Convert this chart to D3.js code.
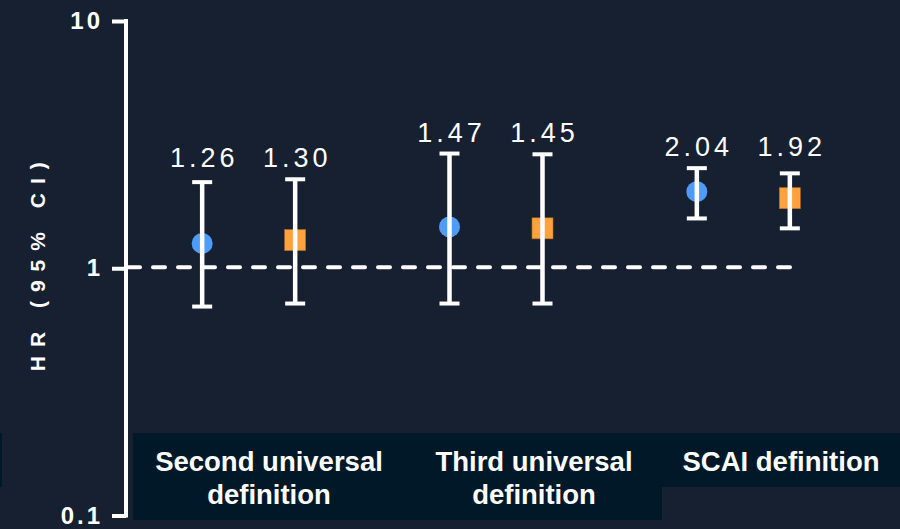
<!DOCTYPE html>
<html>
<head>
<meta charset="utf-8">
<script src="https://cdn.jsdelivr.net/npm/d3@7/dist/d3.min.js"></script>
<style>
  html, body { margin: 0; padding: 0; background: #172030; }
  svg { display: block; }
</style>
</head>
<body>
<svg id="chart" width="900" height="529"></svg>
<script>
// Hazard ratios with 95% confidence intervals, by definition of periprocedural MI
const categories = ["Second universal definition", "Third universal definition", "SCAI definition"];
const categoryLines = [["Second universal", "definition"], ["Third universal", "definition"], ["SCAI definition"]];
const series = ["A", "B"];
const hrA = [1.26, 1.47, 2.04];
const lowA = [0.70, 0.72, 1.59];
const highA = [2.23, 2.91, 2.54];
const hrB = [1.30, 1.45, 1.92];
const lowB = [0.72, 0.72, 1.45];
const highB = [2.29, 2.89, 2.42];
const yTicks = [0.1, 1, 10];
const yTickLabels = ["0.1", "1", "10"];
const yTitle = "HR (95% CI)";

const colors = { A: "#4f9cf8", B: "#ffa13f" };
const boxColor = "#011828";
const bg = "#172030";

const svg = d3.select("#chart");
svg.append("rect").attr("width", 900).attr("height", 529).attr("fill", bg);

const rows = [];
categories.forEach((c, i) => {
  rows.push({ cat: c, s: "A", hr: hrA[i], lo: lowA[i], hi: highA[i] });
  rows.push({ cat: c, s: "B", hr: hrB[i], lo: lowB[i], hi: highB[i] });
});

const x = d3.scaleBand().domain(categories).range([125, 867]).padding(0);
const xs = d3.scalePoint().domain(series).range([-46.5, 46.5]);
const y = d3.scaleLog().domain([0.1, 10]).range([515.5, 21]);
const px = d => x(d.cat) + x.bandwidth() / 2 + xs(d.s);

// Category label panels
const panel = [
  { x0: 133, x1: 662, y0: 433, y1: 520 },
  { x0: 662, x1: 900, y0: 433, y1: 487 },
  { x0: 0, x1: 2, y0: 433, y1: 487 }
];
svg.selectAll("rect.panel").data(panel).enter().append("rect")
  .attr("class", "panel")
  .attr("x", d => d.x0).attr("y", d => d.y0)
  .attr("width", d => d.x1 - d.x0).attr("height", d => d.y1 - d.y0)
  .attr("fill", boxColor);

const labelCenters = [269, 534, 781];
categoryLines.forEach((lines, i) => {
  const t = svg.append("text")
    .attr("x", labelCenters[i])
    .attr("y", 471)
    .attr("text-anchor", "middle")
    .attr("fill", "#ffffff")
    .style("font-family", "'Liberation Sans', Arial, sans-serif")
    .style("font-weight", "bold")
    .style("font-size", "27.5px");
  lines.forEach((ln, j) => {
    t.append("tspan").attr("x", labelCenters[i]).attr("dy", j === 0 ? 0 : 33).text(ln);
  });
});

// Reference line at HR = 1
svg.append("line")
  .attr("x1", 128).attr("x2", px(rows[rows.length - 1]) + 3)
  .attr("y1", y(1) - 1).attr("y2", y(1) - 1)
  .attr("stroke", "#ffffff").attr("stroke-width", 4)
  .attr("stroke-linecap", "round")
  .attr("stroke-dasharray", "12 13");

// Y axis
const axis = d3.axisLeft(y).tickValues(yTicks).tickFormat((d, i) => yTickLabels[i])
  .tickSize(14).tickSizeOuter(0).tickPadding(9);
const gA = svg.append("g").attr("transform", "translate(126,0)").call(axis);
gA.select(".domain").attr("stroke", "#ffffff").attr("stroke-width", 4)
  .attr("d", `M0,${y(10) - 2}V${y(0.1) + 2}`);
gA.selectAll(".tick line").attr("stroke", "#ffffff").attr("stroke-width", 4);
gA.selectAll(".tick text")
  .attr("fill", "#ffffff")
  .style("font-family", "'Liberation Sans', Arial, sans-serif")
  .style("font-weight", "bold")
  .style("font-size", "24px")
  .style("letter-spacing", "3px");

svg.append("text")
  .attr("transform", `translate(45,${y(1) - 6}) rotate(-90)`)
  .attr("text-anchor", "middle")
  .attr("fill", "#ffffff")
  .style("font-family", "'Liberation Sans', Arial, sans-serif")
  .style("font-weight", "bold")
  .style("font-size", "21px")
  .style("letter-spacing", "9px")
  .text(yTitle);

// Markers
const g = svg.append("g");
g.selectAll("circle.pt").data(rows.filter(d => d.s === "A")).enter().append("circle")
  .attr("class", "pt")
  .attr("cx", px).attr("cy", d => y(d.hr)).attr("r", 10.5)
  .attr("fill", colors.A);
g.selectAll("rect.pt").data(rows.filter(d => d.s === "B")).enter().append("rect")
  .attr("class", "pt")
  .attr("x", d => px(d) - 10.5).attr("y", d => y(d.hr) - 10.5)
  .attr("width", 21).attr("height", 21)
  .attr("fill", colors.B).attr("stroke", "#b86e22").attr("stroke-width", 0.6);

// Confidence intervals
const eb = g.selectAll("g.eb").data(rows).enter().append("g").attr("class", "eb");
eb.append("line")
  .attr("x1", px).attr("x2", px)
  .attr("y1", d => y(d.hi)).attr("y2", d => y(d.lo))
  .attr("stroke", "#ffffff").attr("stroke-width", 4.5);
eb.append("line")
  .attr("x1", d => px(d) - 10).attr("x2", d => px(d) + 10)
  .attr("y1", d => y(d.hi)).attr("y2", d => y(d.hi))
  .attr("stroke", "#ffffff").attr("stroke-width", 4);
eb.append("line")
  .attr("x1", d => px(d) - 10).attr("x2", d => px(d) + 10)
  .attr("y1", d => y(d.lo)).attr("y2", d => y(d.lo))
  .attr("stroke", "#ffffff").attr("stroke-width", 4);

// Value labels, aligned per group above the tallest interval
const groupTop = {};
rows.forEach(d => { groupTop[d.cat] = Math.max(groupTop[d.cat] || 0, d.hi); });
eb.append("text")
  .attr("x", d => px(d) + 2)
  .attr("y", d => y(groupTop[d.cat]) - 12)
  .attr("text-anchor", "middle")
  .attr("fill", "#ffffff")
  .style("font-family", "'Liberation Sans', Arial, sans-serif")
  .style("font-size", "27px")
  .style("letter-spacing", "4px")
  .text(d => d.hr.toFixed(2));
</script>
</body>
</html>
